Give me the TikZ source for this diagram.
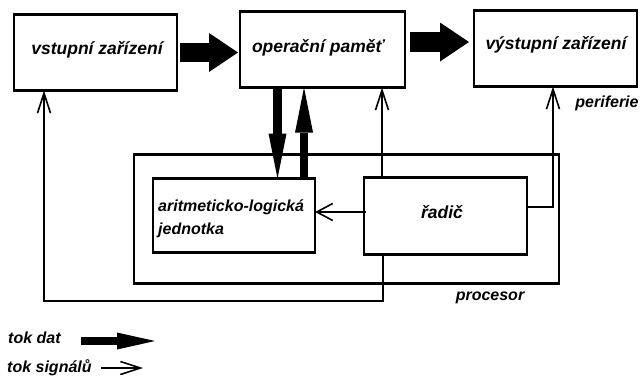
\documentclass[tikz,border=0pt]{standalone}
\usepackage{fontspec}
\setmainfont{Liberation Sans}
\usetikzlibrary{arrows.meta}
\begin{document}
\begin{tikzpicture}[x=1pt,y=-1pt,
  box/.style={draw, line width=2.5pt, outer sep=0pt, inner sep=0pt},
  bigtxt/.style={font=\bfseries\itshape\fontsize{17.5}{20}\selectfont, inner sep=0pt},
  smtxt/.style={font=\bfseries\itshape\fontsize{16}{23}\selectfont, inner sep=0pt},
  sig/.style={line width=1.6pt, -{Straight Barb[length=20pt,width=13pt,line width=1.6pt]}},
  sigh/.style={line width=1.6pt, -{Straight Barb[length=16pt,width=17pt,line width=1.6pt]}},
  dath/.style={line width=19pt, -{Triangle[length=29pt,width=39pt,line width=0pt]}},
  datv/.style={line width=9pt, -{Triangle[length=45pt,width=18pt,line width=0pt]}},
  datl/.style={line width=8pt, -{Triangle[length=38pt,width=17pt,line width=0pt]}}
]
\useasboundingbox (0,0) rectangle (640,376);

% boxes
\node[box, minimum width=163pt, minimum height=76pt] (in)  at (95.5,52.5) {};
\node[box, minimum width=165pt, minimum height=76pt] (mem) at (322.5,49.5) {};
\node[box, minimum width=163pt, minimum height=76pt] (out) at (555.5,48.5) {};
\node[box, minimum width=425pt, minimum height=129pt] (proc) at (346.5,219) {};
\node[box, minimum width=162pt, minimum height=74pt] (alu) at (234,215.5) {};
\node[box, minimum width=163pt, minimum height=77pt] (ctl) at (445.5,216) {};

% box texts
\node[bigtxt] (tin)  at (97,50)   {vstupní zařízení};
\node[bigtxt] (tmem) at (318,48)  {operační paměť};
\node[bigtxt] (tout) at (556,45)  {výstupní zařízení};
\node[bigtxt] (tctl) at (442,212) {řadič};
\node[smtxt, align=left, anchor=west] (talu) at (158,218.5) {aritmeticko-logická\\jednotka};
\node[smtxt] (tper)  at (607,103) {periferie};
\node[smtxt] (tproc) at (490,298) {procesor};

% data flow (thick)
\draw[dath, shorten <=3pt, shorten >=2pt] (in.east) -- (in.east -| mem.west);
\draw[dath, line width=20pt, shorten <=5pt, shorten >=5pt] ([yshift=7.5pt]mem.east) -- ([yshift=7.5pt]mem.east -| out.west);
\coordinate (xd) at (277.5,0);
\coordinate (xu) at (304,0);
\draw[datv] (xd |- mem.south) -- (xd |- alu.north);
\draw[datv, line width=8pt] (xu |- alu.north) -- (xu |- mem.south);

% signal flow (thin)
\coordinate (xa) at (383,0);
\coordinate (fb) at (44,301);
\draw[sig] (xa |- ctl.south) |- (fb) -- (fb |- in.south);
\coordinate (xb) at (382,0);
\draw[sig] (xb |- ctl.north) -- (xb |- mem.south);
\coordinate (cr) at (553,207);
\draw[sig] (ctl.east |- cr) -- (cr) -- (cr |- out.south);
\coordinate (ca) at (0,212);
\draw[sigh] ([xshift=2pt]ctl.west |- ca) -- (alu.east |- ca);

% legend
\node[smtxt, anchor=west] (ldat) at (8,338) {tok dat};
\node[smtxt, anchor=west] (lsig) at (7,368) {tok signálů};
\coordinate (ld1) at (81,341);
\coordinate (ld2) at (155,341);
\draw[datl] (ld1) -- (ld2);
\coordinate (ls1) at (101,368);
\coordinate (ls2) at (143,368);
\draw[sig] (ls1) -- (ls2);
\end{tikzpicture}
\end{document}
